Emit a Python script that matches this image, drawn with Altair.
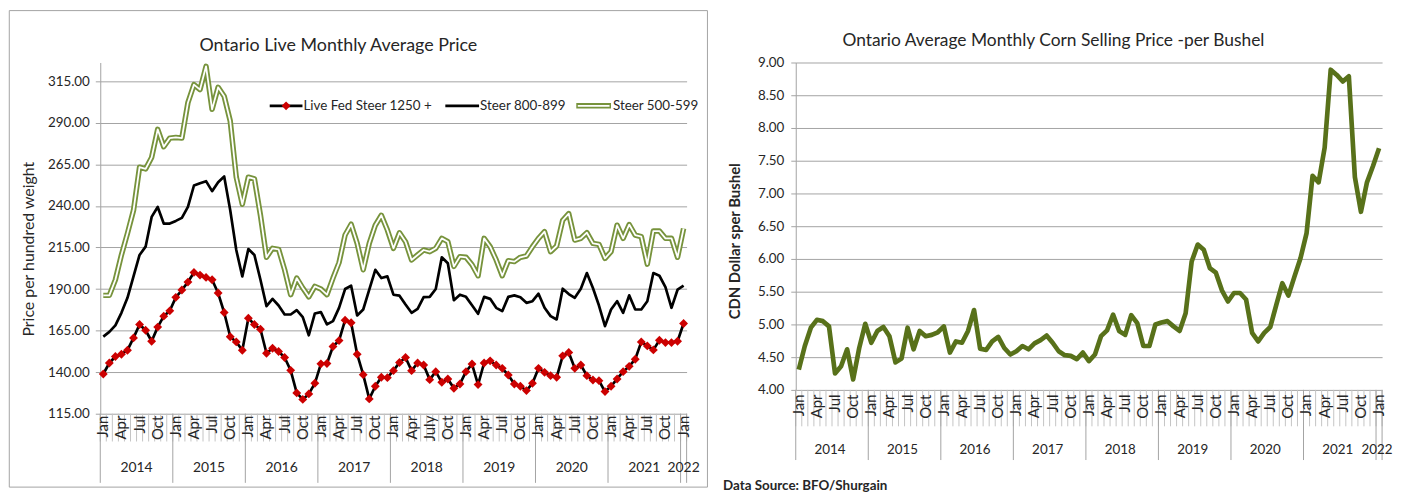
import altair as alt
import pandas as pd

# ---------------- data ----------------
years = [2014, 2015, 2016, 2017, 2018, 2019, 2020, 2021, 2022]
month_names = ["Jan", "Feb", "Mar", "Apr", "May", "Jun", "Jul", "Aug", "Sep", "Oct", "Nov", "Dec"]
shown_months = ["Jan", "Apr", "Jul", "Oct"]

live_fed_steer_1250 = [
    138.9, 145.5, 149.4, 150.8, 153.2, 160.6, 168.7, 165.2, 158.6, 167.1, 173.7, 176.9,
    185.0, 189.4, 194.2, 200.0, 198.4, 197.0, 195.6, 187.6, 175.9, 161.3, 158.2, 153.2,
    172.5, 168.7, 165.8, 151.4, 154.4, 152.4, 148.8, 141.1, 127.5, 123.6, 126.9, 133.3,
    145.0, 145.2, 155.4, 159.0, 171.3, 169.7, 150.8, 138.5, 123.9, 131.5, 136.9, 136.7,
    140.9, 145.8, 148.8, 140.9, 145.5, 144.3, 135.5, 140.3, 133.9, 135.9, 130.3, 132.9,
    140.3, 144.9, 132.5, 145.5, 146.8, 144.3, 142.3, 138.3, 132.9, 131.5, 128.9, 133.3,
    142.3, 139.9, 137.9, 136.9, 149.8, 151.8, 142.3, 144.3, 137.9, 135.3, 134.9, 128.3,
    131.5, 135.9, 140.3, 143.5, 147.8, 158.2, 155.8, 153.4, 159.2, 157.8, 157.8, 158.6,
    169.3,
]
steer_800_899 = [
    161.4, 164.2, 168.1, 175.7, 184.7, 197.6, 210.5, 215.5, 233.4, 239.4, 229.4, 229.4,
    231.0, 232.8, 239.4, 252.3, 253.7, 254.9, 248.9, 254.3, 257.7, 237.4, 213.5, 197.6,
    214.1, 210.5, 195.6, 179.7, 184.1, 180.1, 174.7, 174.7, 177.3, 173.1, 162.2, 175.3,
    176.1, 168.7, 170.7, 178.7, 190.0, 192.0, 174.1, 177.7, 189.6, 201.6, 196.6, 197.6,
    186.6, 186.0, 180.7, 175.7, 178.1, 185.1, 185.3, 190.0, 209.1, 205.5, 183.3, 186.6,
    185.3, 180.3, 175.1, 185.3, 184.1, 178.7, 176.7, 185.3, 186.2, 185.1, 181.7, 182.7,
    187.2, 178.7, 173.7, 171.7, 190.2, 187.0, 184.7, 190.2, 199.6, 190.6, 180.1, 167.7,
    177.7, 182.7, 175.7, 186.2, 177.7, 177.7, 182.7, 199.6, 198.0, 191.2, 178.7, 189.6,
    192.0,
]
steer_500_599 = [
    186.2, 186.2, 195.6, 210.5, 223.5, 237.4, 263.3, 262.3, 269.2, 286.1, 275.6, 280.8,
    281.2, 280.8, 302.1, 313.0, 310.0, 324.0, 298.1, 311.4, 306.0, 291.1, 257.3, 241.0,
    257.3, 256.3, 234.4, 209.1, 214.5, 213.9, 201.6, 186.6, 196.6, 190.6, 185.3, 191.6,
    190.0, 186.6, 196.6, 205.9, 222.5, 229.0, 217.5, 201.6, 217.5, 228.4, 234.4, 225.5,
    214.5, 223.9, 218.5, 207.5, 210.5, 213.5, 212.5, 214.5, 220.5, 218.5, 203.6, 209.5,
    209.1, 204.6, 198.0, 220.5, 215.5, 207.5, 198.0, 207.1, 206.5, 209.1, 209.9, 215.5,
    220.5, 224.5, 212.5, 215.9, 231.4, 235.4, 219.5, 220.5, 223.9, 217.5, 216.9, 208.5,
    212.5, 228.4, 220.5, 228.8, 222.5, 221.5, 205.0, 224.9, 224.9, 220.5, 220.5, 209.1,
    226.4,
]
corn_price = [
    4.31, 4.67, 4.95, 5.07, 5.05, 4.97, 4.25, 4.36, 4.62, 4.16, 4.64, 5.01,
    4.72, 4.90, 4.96, 4.82, 4.42, 4.48, 4.95, 4.62, 4.90, 4.82, 4.84, 4.88,
    4.97, 4.57, 4.74, 4.72, 4.90, 5.22, 4.63, 4.61, 4.74, 4.81, 4.64, 4.54,
    4.59, 4.67, 4.62, 4.71, 4.76, 4.83, 4.72, 4.59, 4.53, 4.52, 4.47, 4.57,
    4.44, 4.54, 4.82, 4.91, 5.15, 4.90, 4.84, 5.14, 5.02, 4.67, 4.67, 5.00,
    5.03, 5.05, 4.97, 4.90, 5.17, 5.96, 6.22, 6.14, 5.86, 5.79, 5.52, 5.35,
    5.48, 5.48, 5.38, 4.87, 4.74, 4.87, 4.96, 5.30, 5.63, 5.44, 5.73, 6.01,
    6.39, 7.27, 7.17, 7.70, 8.89, 8.81, 8.71, 8.79, 7.25, 6.72, 7.17, 7.42,
    7.69,
]
left_ticks = [115, 140, 165, 190, 215, 240, 265, 290, 315]
right_ticks = [4.0, 4.5, 5.0, 5.5, 6.0, 6.5, 7.0, 7.5, 8.0, 8.5, 9.0]

left_title = "Ontario Live Monthly Average Price"
right_title = "Ontario Average Monthly Corn Selling Price -per Bushel"
left_ytitle = "Price per hundred weight"
right_ytitle = "CDN Dollar sper Bushel"
source_note = "Data Source: BFO/Shurgain"
legend_names = ["Live Fed Steer 1250 +", "Steer 800-899", "Steer 500-599"]

# ---------------- tables built from the lists ----------------
n = len(corn_price)
idx = list(range(n))
df = pd.DataFrame({
    "idx": idx,
    "month": [month_names[i % 12] for i in idx],
    "year": [str(years[i // 12]) for i in idx],
    "red": live_fed_steer_1250,
    "black": steer_800_899,
    "green": steer_500_599,
    "corn": corn_price,
})

lab = df[df["month"].isin(shown_months)][["idx", "month", "year"]].copy()
lab_left = lab.copy()
lab_left["label"] = [("July" if (m == "Jul" and y == "2018") else m) for m, y in zip(lab["month"], lab["year"])]
lab_right = lab.copy()
lab_right["label"] = lab["month"]

month_bounds = pd.DataFrame({"b": [i - 0.5 for i in idx] + [n - 0.5]})
year_bounds = pd.DataFrame({"b": [i - 0.5 for i in idx if i % 12 == 0] + [n - 0.5]})
year_centers = df.groupby("year", as_index=False)["idx"].mean().rename(columns={"idx": "center"})

one = pd.DataFrame({"a": [0]})

# ---------------- styling ----------------
FONT = "Lato"
TXT = "#262626"
GRID = "#A3A3A3"
LIGHT = "#C4C4C4"
GREEN = "#77933C"
CORN = "#58711A"
RED = "#CC0000"

WL, HL = 591, 354
WR, HR = 591, 330

xs = alt.Scale(domain=[-0.5, n - 0.5], nice=False, zero=False)
X = alt.X("idx:Q", scale=xs, axis=None)

ys_left = alt.Scale(domain=[115, 326.3], nice=False, zero=False)
ys_right = alt.Scale(domain=[4, 9], nice=False, zero=False)

ax_left = alt.Axis(
    values=left_ticks, format=".2f", grid=True, gridColor=GRID, gridWidth=1,
    domainColor=GRID, tickColor=GRID, tickSize=5, labelPadding=6,
    labelFontSize=13.5, labelColor=TXT, labelFont=FONT,
    title=left_ytitle, titleFontSize=16, titleFontWeight="normal", titleColor=TXT,
    titleFont=FONT, titleX=-72.5, titleY=187.7, titleAngle=270,
    titleAlign="center", titleBaseline="middle",
)
ax_right = alt.Axis(
    values=right_ticks, format=".2f", grid=True, gridColor=GRID, gridWidth=1,
    domainColor=GRID, tickColor=GRID, tickSize=5, labelPadding=7,
    labelFontSize=13.5, labelColor=TXT, labelFont=FONT,
    title=right_ytitle, titleFontSize=15, titleFontWeight="bold", titleColor=TXT,
    titleFont=FONT, titleX=-62, titleY=179.7, titleAngle=270,
    titleAlign="center", titleBaseline="middle",
)


def category_axis(h, lab_df, tick_len, label_top, year_y, sep_len, year_dx=0, year_size=14):
    ticks = alt.Chart(month_bounds).mark_rule(color=LIGHT, strokeWidth=1).encode(
        x=alt.X("b:Q", scale=xs, axis=None), y=alt.value(h), y2=alt.value(h + tick_len))
    seps = alt.Chart(year_bounds).mark_rule(color=GRID, strokeWidth=1).encode(
        x=alt.X("b:Q", scale=xs, axis=None), y=alt.value(h), y2=alt.value(h + sep_len))
    mtext = alt.Chart(lab_df).mark_text(
        angle=270, align="right", baseline="middle", fontSize=15, color=TXT, font=FONT
    ).encode(x=X, y=alt.value(label_top), text="label:N")
    ytext = alt.Chart(year_centers).mark_text(
        align="center", baseline="middle", fontSize=year_size, color=TXT, font=FONT, dx=year_dx
    ).encode(x=alt.X("center:Q", scale=xs, axis=None), y=alt.value(year_y), text="year:N")
    return [ticks, seps, mtext, ytext]


# ---------------- left panel ----------------
base = alt.Chart(df)
frame_left = alt.Chart(one).mark_rect(fill="transparent", stroke=GRID, strokeWidth=1).encode(
    x=alt.value(-91.7), x2=alt.value(612), y=alt.value(-52.3), y2=alt.value(428))

green_outer = base.mark_line(color=GREEN, strokeWidth=5.5, strokeJoin="round").encode(
    x=X, y=alt.Y("green:Q", scale=ys_left, axis=ax_left))
green_inner = base.mark_line(color="white", strokeWidth=1.8, strokeJoin="round").encode(
    x=X, y=alt.Y("green:Q", scale=ys_left, axis=ax_left))
black_line = base.mark_line(color="black", strokeWidth=2.7, strokeJoin="round").encode(
    x=X, y=alt.Y("black:Q", scale=ys_left, axis=ax_left))
red_line = base.mark_line(color="black", strokeWidth=2.7, strokeJoin="round").encode(
    x=X, y=alt.Y("red:Q", scale=ys_left, axis=ax_left))
red_pts = base.mark_point(shape="diamond", filled=True, size=80, color=RED, opacity=1).encode(
    x=X, y=alt.Y("red:Q", scale=ys_left, axis=ax_left))

LEG_Y = 43.7
leg = [
    alt.Chart(one).mark_rule(color="black", strokeWidth=2.7).encode(
        x=alt.value(170.8), x2=alt.value(203.8), y=alt.value(LEG_Y)),
    alt.Chart(one).mark_point(shape="diamond", filled=True, size=80, color=RED, opacity=1).encode(
        x=alt.value(187.3), y=alt.value(LEG_Y)),
    alt.Chart(one).mark_rule(color="black", strokeWidth=2.7).encode(
        x=alt.value(347.8), x2=alt.value(381.8), y=alt.value(LEG_Y)),
    alt.Chart(one).mark_rule(color=GREEN, strokeWidth=5.5).encode(
        x=alt.value(479.8), x2=alt.value(514.8), y=alt.value(LEG_Y)),
    alt.Chart(one).mark_rule(color="white", strokeWidth=1.8).encode(
        x=alt.value(481.3), x2=alt.value(513.3), y=alt.value(LEG_Y)),
]
leg_pos = [204.8, 382.8, 516.8]
for name, px in zip(legend_names, leg_pos):
    leg.append(alt.Chart(pd.DataFrame({"t": [name]})).mark_text(
        align="left", baseline="middle", fontSize=13.5, color=TXT, font=FONT
    ).encode(x=alt.value(px), y=alt.value(LEG_Y), text="t:N"))

title_left = alt.Chart(pd.DataFrame({"t": [left_title]})).mark_text(
    align="center", baseline="middle", fontSize=18, color=TXT, font=FONT
).encode(x=alt.value(240), y=alt.value(-16.3), text="t:N")

left = alt.layer(
    frame_left,
    *category_axis(HL, lab_left, 28, HL + 2, 408.7, 69.7),
    green_outer, green_inner, black_line, red_line, red_pts,
    *leg, title_left,
).properties(width=WL, height=HL)

# ---------------- right panel ----------------
frame_right = alt.Chart(one).mark_rect(fill="transparent").encode(
    x=alt.value(-87.6), x2=alt.value(597), y=alt.value(-52.8), y2=alt.value(420))

corn_line = base.mark_line(color=CORN, strokeWidth=4.7, strokeJoin="round").encode(
    x=X, y=alt.Y("corn:Q", scale=ys_right, axis=ax_right))

title_right = alt.Chart(pd.DataFrame({"t": [right_title]})).mark_text(
    align="center", baseline="middle", fontSize=17.5, color=TXT, font=FONT
).encode(x=alt.value(259.7), y=alt.value(-21.3), text="t:N")

note = alt.Chart(pd.DataFrame({"t": [source_note]})).mark_text(
    align="left", baseline="middle", fontSize=13.5, fontWeight="bold", color=TXT, font=FONT
).encode(x=alt.value(-73.3), y=alt.value(426.5), text="t:N")

right = alt.layer(
    frame_right,
    *category_axis(HR, lab_right, 36.7, HR + 4.7, 390.7, 70.7, year_dx=-2, year_size=13.5),
    corn_line, title_right, note,
).properties(width=WR, height=HR)

chart = alt.hconcat(left, right, spacing=0, padding=0).configure(
    font=FONT
).configure_view(strokeWidth=0)

chart.save("out.html", embed_options={"renderer": "svg", "actions": False})
